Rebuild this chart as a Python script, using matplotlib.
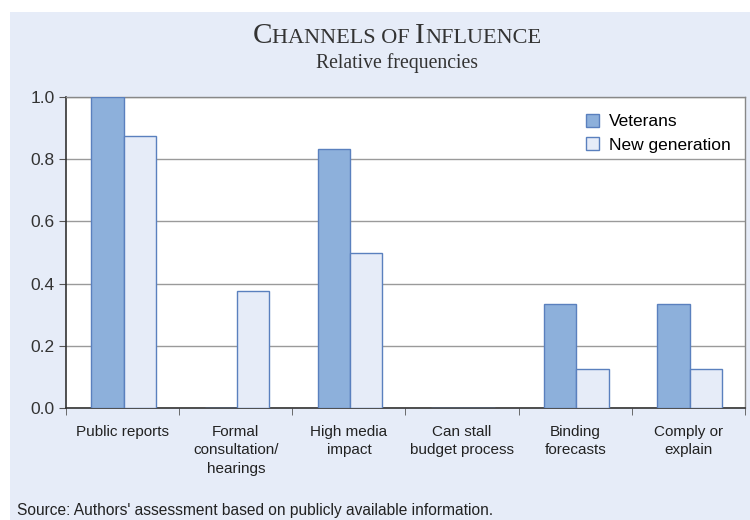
import matplotlib
matplotlib.use("Agg")
import matplotlib.pyplot as plt
import numpy as np
from matplotlib.patches import Rectangle
from matplotlib.offsetbox import TextArea, HPacker, AnchoredOffsetbox

categories = ["Public reports", "Formal\nconsultation/\nhearings", "High media\nimpact",
              "Can stall\nbudget process", "Binding\nforecasts", "Comply or\nexplain"]
veterans = [1.0, 0.0, 0.833, 0.0, 0.333, 0.333]
new_generation = [0.875, 0.375, 0.5, 0.0, 0.125, 0.125]
yticks = [0.0, 0.2, 0.4, 0.6, 0.8, 1.0]

W, H = 750, 520
fig = plt.figure(figsize=(W/100, H/100), dpi=100, facecolor="white")
plt.rcParams['font.family'] = ['Liberation Sans', 'DejaVu Sans']

panel = "#E6ECF8"
fig.patches.append(Rectangle((10/W, 0), 1 - 10/W, 1 - 12/H, transform=fig.transFigure,
                             facecolor=panel, edgecolor="none", zorder=-10))

ax = fig.add_axes([66/W, 1 - 408/H, (745-66)/W, (408-97)/H])
ax.set_zorder(1)
ax.set_facecolor("white")

x = np.arange(len(categories))
bw = 0.285
ax.bar(x - bw/2 + 0.01, veterans, bw, color="#8DB0DB", edgecolor="#5A80BE", linewidth=1.0,
       label="Veterans", zorder=3)
ax.bar(x + bw/2 + 0.01, new_generation, bw, color="#E6ECF8", edgecolor="#5A80BE", linewidth=1.0,
       label="New generation", zorder=3)

ax.set_xlim(-0.5, len(categories) - 0.5)
ax.set_ylim(0, 1.0)
ax.set_yticks(yticks)
ax.set_yticklabels([f"{v:.1f}" for v in yticks], fontsize=12.5, color="#333333")
ax.yaxis.grid(True, color="#9a9a9a", linewidth=1.0, zorder=1)
ax.set_axisbelow(True)

ax.set_xticks(x)
ax.set_xticklabels(categories, fontsize=11, color="#222222", linespacing=1.42)
ax.tick_params(axis="x", length=0, pad=12)
ax.set_xticks(np.arange(len(categories) + 1) - 0.5, minor=True)
ax.tick_params(axis="x", which="minor", length=5, color="#555555", direction="out")
ax.tick_params(axis="y", length=5, color="#555555", direction="out", pad=3)

for s in ["left", "bottom"]:
    ax.spines[s].set_color("#333333")
    ax.spines[s].set_linewidth(1.2)
for s in ["top", "right"]:
    ax.spines[s].set_color("#888888")
    ax.spines[s].set_linewidth(1.0)

leg = ax.legend(loc="upper right", bbox_to_anchor=(1.0, 0.99), frameon=False, fontsize=12.5,
                handlelength=0.75, handleheight=0.75, handletextpad=0.6, labelspacing=0.45,
                borderaxespad=0.4)

# Title in small caps
serif = ["Liberation Serif", "DejaVu Serif"]
parts = [("C", 21), ("HANNELS OF ", 16), ("I", 21), ("NFLUENCE", 16)]
areas = [TextArea(t, textprops=dict(fontsize=s, family=serif, color="#333333")) for t, s in parts]
pack = HPacker(children=areas, align="baseline", pad=0, sep=0)
ab = AnchoredOffsetbox(loc="center", child=pack, frameon=False,
                       bbox_to_anchor=(397/W, 1 - 36/H), bbox_transform=fig.transFigure, pad=0,
                       borderpad=0)
fig.add_artist(ab)

fig.text(397/W, 1 - 63/H, "Relative frequencies", ha="center", va="center",
         fontsize=14.2, family=serif, color="#333333")

fig.text(17/W, 1 - 511/H, "Source: Authors' assessment based on publicly available information.",
         ha="left", va="center", fontsize=11.2, color="#222222")

fig.savefig("out.png", dpi=100, facecolor="white")
